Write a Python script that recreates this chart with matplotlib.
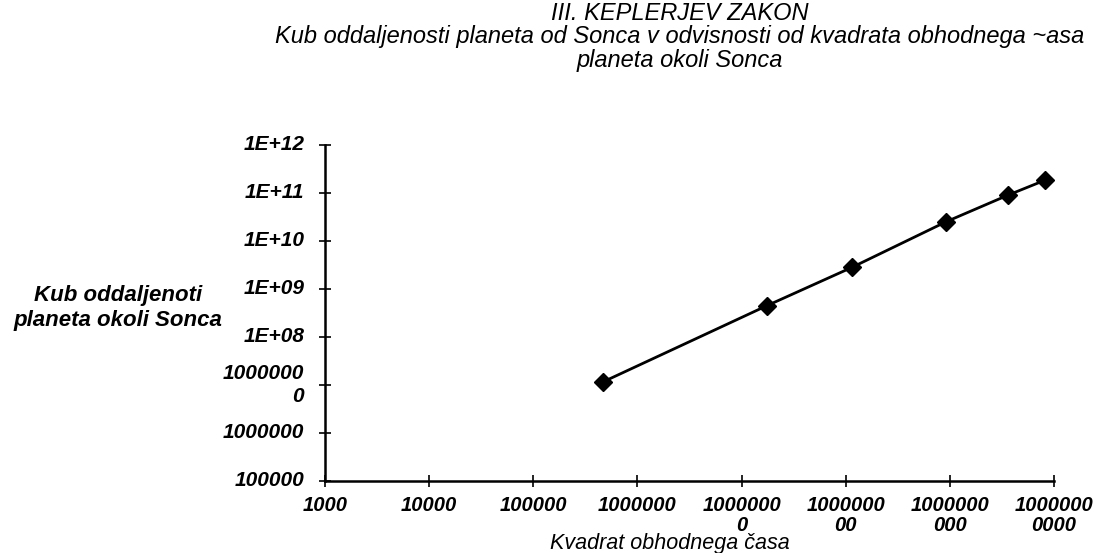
import matplotlib
matplotlib.use("Agg")
import matplotlib.pyplot as plt
from matplotlib.ticker import FixedLocator, NullLocator

# data
period_sq = [4.71e5, 1.75e7, 1.15e8, 9.25e8, 3.64e9, 8.26e9]
dist_cube = [1.17e7, 4.49e8, 2.83e9, 2.53e10, 9.08e10, 1.86e11]

x_ticks = [1e3, 1e4, 1e5, 1e6, 1e7, 1e8, 1e9, 1e10]
x_tick_labels = ["1000", "10000", "100000", "1000000", "1000000\n0",
                 "1000000\n00", "1000000\n000", "1000000\n0000"]
y_ticks = [1e5, 1e6, 1e7, 1e8, 1e9, 1e10, 1e11, 1e12]
y_tick_labels = ["100000", "1000000", "1000000\n0", "1E+08", "1E+09",
                 "1E+10", "1E+11", "1E+12"]

title_lines = ["III. KEPLERJEV ZAKON",
               "Kub oddaljenosti planeta od Sonca v odvisnosti od kvadrata obhodnega ~asa",
               "planeta okoli Sonca"]
y_label = "Kub oddaljenoti\nplaneta okoli Sonca"
x_label = "Kvadrat obhodnega časa"

FONT = "Liberation Sans"

fig = plt.figure(figsize=(10.97, 5.53), dpi=100)
ax = fig.add_axes([325 / 1097, 1 - 481 / 553, (1054 - 325) / 1097, (481 - 145) / 553])

ax.plot(period_sq, dist_cube, color="black", lw=2, marker="D", ms=9,
        markerfacecolor="black", markeredgecolor="black")

ax.set_xscale("log")
ax.set_yscale("log")
ax.set_xlim(1e3, 1e10)
ax.set_ylim(1e5, 1e12)

ax.xaxis.set_major_locator(FixedLocator(x_ticks))
ax.yaxis.set_major_locator(FixedLocator(y_ticks))
ax.xaxis.set_minor_locator(NullLocator())
ax.yaxis.set_minor_locator(NullLocator())
ax.set_xticklabels(x_tick_labels, fontfamily=FONT, fontstyle="italic",
                   fontweight="bold", fontsize=14.5, linespacing=1.05,
                   va="top")
ax.set_yticklabels(y_tick_labels, fontfamily=FONT, fontstyle="italic",
                   fontweight="bold", fontsize=15, linespacing=1.3,
                   ha="right", va="center")

ax.tick_params(axis="both", direction="inout", length=8, width=1.2,
               color="black")
ax.tick_params(axis="x", pad=7)
ax.tick_params(axis="y", pad=11)

for s in ["top", "right"]:
    ax.spines[s].set_visible(False)
for s in ["left", "bottom"]:
    ax.spines[s].set_linewidth(1.8)
    ax.spines[s].set_color("black")

ys = [1 - 14 / 553, 1 - 37 / 553, 1 - 60 / 553]
for t, yy in zip(title_lines, ys):
    fig.text(680 / 1097, yy, t, ha="center", va="center", fontfamily=FONT,
             fontstyle="italic", fontsize=17)

fig.text(118 / 1097, 1 - 308 / 553, y_label, ha="center", va="center",
         fontfamily=FONT, fontstyle="italic", fontweight="bold",
         fontsize=16, linespacing=1.25)
fig.text(670 / 1097, 1 - 543 / 553, x_label, ha="center", va="center",
         fontfamily=FONT, fontstyle="italic", fontsize=15.5)

fig.savefig("out.png", dpi=100, facecolor="white")
